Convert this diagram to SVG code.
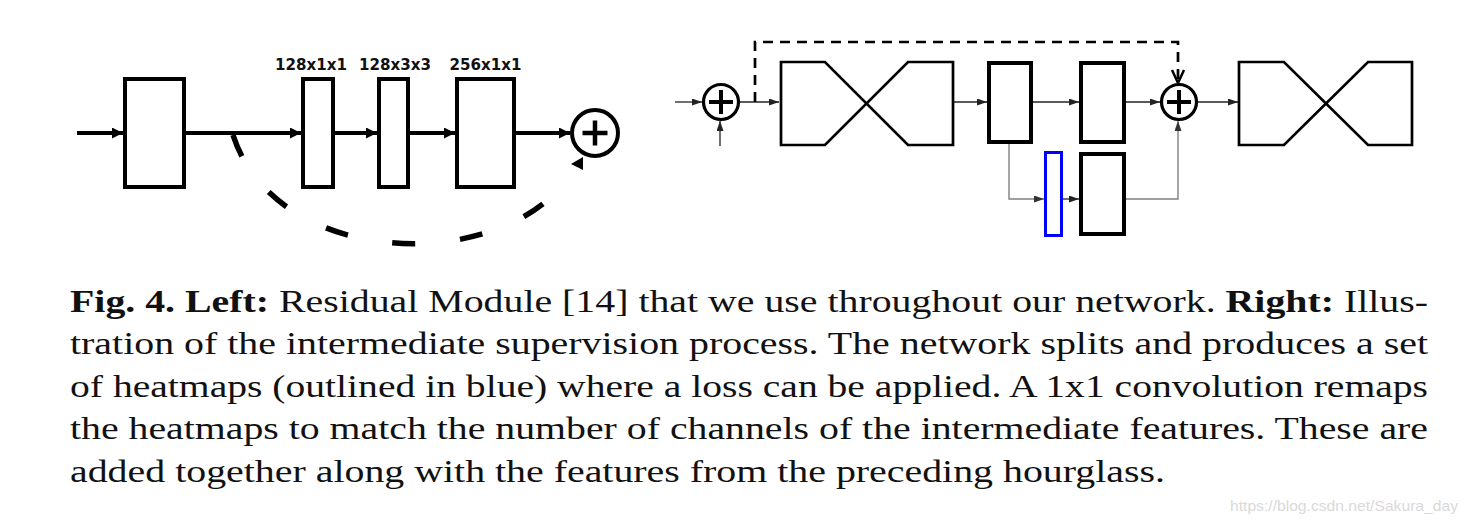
<svg xmlns="http://www.w3.org/2000/svg" width="1470" height="523" viewBox="0 0 1470 523">
  <style>
    .thick { fill: none; stroke: #000; stroke-width: 4; }
    .box { fill: #fff; stroke: #000; stroke-width: 4; }
    .hg { fill: #fff; stroke: #000; stroke-width: 2.7; stroke-linejoin: miter; }
    .thin { fill: none; stroke: #222; stroke-width: 1.3; }
    .grey { fill: none; stroke: #808080; stroke-width: 1.4; }
    .skip { fill: none; stroke: #000; stroke-width: 2.7; stroke-dasharray: 10 7; }
    .arc { fill: none; stroke: #000; stroke-width: 5.5; stroke-dasharray: 23 45 23 45 23 45 23 45 23 45 23 300; }
    .sum { fill: #fff; stroke: #000; }
    .plus { stroke: #000; stroke-linecap: butt; }
    .lbl { font-family: "DejaVu Sans", sans-serif; font-weight: bold; font-size: 15.5px; text-anchor: middle; fill: #111; }
    .cap { font-family: "Liberation Serif", "Times New Roman", serif; font-size: 31px; fill: #111; }
    .b { font-weight: bold; }
    .wm { font-family: "Liberation Sans", Arial, sans-serif; font-size: 14.5px; fill: #d9d9d9; }
  </style>
  <defs>
    <marker id="headThick" markerUnits="userSpaceOnUse" markerWidth="12" markerHeight="12" refX="11" refY="5.5" orient="auto">
      <path d="M0,0 L11,5.5 L0,11 z" fill="#000"/>
    </marker>
    <marker id="headThin" markerUnits="userSpaceOnUse" markerWidth="11" markerHeight="8" refX="10" refY="3.5" orient="auto">
      <path d="M0,0 L10,3.5 L0,7 z" fill="#222"/>
    </marker>
    <marker id="headGrey" markerUnits="userSpaceOnUse" markerWidth="11" markerHeight="8" refX="10" refY="3.5" orient="auto">
      <path d="M0,0 L10,3.5 L0,7 z" fill="#333"/>
    </marker>
  </defs>

  <rect width="1470" height="523" fill="#fff"/>

  <!-- Residual module (left) -->
  <g id="res-connectors">
    <line class="thick" x1="77" y1="133" x2="123" y2="133" marker-end="url(#headThick)"/>
    <line class="thick" x1="186" y1="133" x2="301" y2="133" marker-end="url(#headThick)"/>
    <line class="thick" x1="335" y1="133" x2="377" y2="133" marker-end="url(#headThick)"/>
    <line class="thick" x1="410" y1="133" x2="455" y2="133" marker-end="url(#headThick)"/>
    <line class="thick" x1="516" y1="133" x2="570" y2="133" marker-end="url(#headThick)"/>
    <!-- identity skip drawn as a dashed curve -->
    <path class="arc" d="M233,135 C278,275 522,275 578,162"/>
    <polygon points="571,164 583,157 583,170" fill="#000"/>
  </g>
  <g id="res-input">
    <rect class="box" x="125" y="79" width="59" height="108"/>
  </g>
  <g id="conv-128x1x1">
    <rect class="box" x="303" y="79" width="30" height="108"/>
    <text class="lbl" x="311" y="70" textLength="72" lengthAdjust="spacingAndGlyphs">128x1x1</text>
  </g>
  <g id="conv-128x3x3">
    <rect class="box" x="379" y="79" width="29" height="108"/>
    <text class="lbl" x="395" y="70" textLength="72" lengthAdjust="spacingAndGlyphs">128x3x3</text>
  </g>
  <g id="conv-256x1x1">
    <rect class="box" x="457" y="79" width="57" height="108"/>
    <text class="lbl" x="485.5" y="70" textLength="72" lengthAdjust="spacingAndGlyphs">256x1x1</text>
  </g>
  <g id="res-sum">
    <circle class="sum" cx="595" cy="133" r="23" stroke-width="4"/>
    <line class="plus" x1="582.5" y1="133" x2="607.5" y2="133" stroke-width="4.5"/>
    <line class="plus" x1="595" y1="120.5" x2="595" y2="145.5" stroke-width="4.5"/>
  </g>

  <!-- Intermediate supervision (right) -->
  <g id="sup-connectors">
    <line class="thin" x1="675" y1="102" x2="702" y2="102" marker-end="url(#headThin)"/>
    <line class="thin" x1="720" y1="146" x2="720" y2="121" marker-end="url(#headThin)"/>
    <line class="thin" x1="740" y1="102" x2="779" y2="102" marker-end="url(#headThin)"/>
    <line class="thin" x1="954" y1="102" x2="987" y2="102" marker-end="url(#headThin)"/>
    <line class="thin" x1="1033" y1="102" x2="1079" y2="102" marker-end="url(#headThin)"/>
    <line class="thin" x1="1126" y1="102" x2="1160" y2="102" marker-end="url(#headThin)"/>
    <line class="thin" x1="1198" y1="102" x2="1238" y2="102" marker-end="url(#headThin)"/>
    <polyline class="grey" points="1009,144 1009,199 1044,199" marker-end="url(#headGrey)"/>
    <line class="thin" x1="1063" y1="199" x2="1079" y2="199" marker-end="url(#headThin)"/>
    <polyline class="grey" points="1126,199 1178,199 1178,121" marker-end="url(#headGrey)"/>
    <polyline class="skip" points="755,102 755,42 1178,42 1178,82"/>
    <polyline points="1172,70 1178,83 1184,70" fill="none" stroke="#000" stroke-width="2.5"/>
  </g>
  <g id="sup-sum-in">
    <circle class="sum" cx="721" cy="102" r="17.5" stroke-width="3.2"/>
    <line class="plus" x1="709" y1="102" x2="733" y2="102" stroke-width="4"/>
    <line class="plus" x1="721" y1="90" x2="721" y2="114" stroke-width="4"/>
  </g>
  <g id="hourglass-1">
    <path class="hg" d="M781,62 L825,62 L908,145 L953,145 L953,62 L908,62 L825,145 L781,145 Z"/>
  </g>
  <g id="features">
    <rect class="box" x="989" y="63" width="42" height="79"/>
  </g>
  <g id="features-2">
    <rect class="box" x="1081" y="63" width="43" height="79"/>
  </g>
  <g id="heatmaps">
    <rect x="1045.5" y="152.5" width="16" height="83" fill="#fff" stroke="#0000ff" stroke-width="3"/>
  </g>
  <g id="remap">
    <rect class="box" x="1081" y="154" width="43" height="80"/>
  </g>
  <g id="sup-sum-out">
    <circle class="sum" cx="1179" cy="102" r="17.5" stroke-width="3.2"/>
    <line class="plus" x1="1167" y1="102" x2="1191" y2="102" stroke-width="4"/>
    <line class="plus" x1="1179" y1="90" x2="1179" y2="114" stroke-width="4"/>
  </g>
  <g id="hourglass-2">
    <path class="hg" d="M1239,62 L1284,62 L1368,145 L1412,145 L1412,62 L1368,62 L1284,145 L1239,145 Z"/>
  </g>

  <!-- Caption -->
  <g id="caption">
    <text class="cap" x="70" y="312" textLength="1358" lengthAdjust="spacingAndGlyphs"><tspan class="b">Fig. 4. Left:</tspan> Residual Module [14] that we use throughout our network. <tspan class="b">Right:</tspan> Illus-</text>
    <text class="cap" x="70" y="354" textLength="1358" lengthAdjust="spacingAndGlyphs">tration of the intermediate supervision process. The network splits and produces a set</text>
    <text class="cap" x="70" y="397" textLength="1358" lengthAdjust="spacingAndGlyphs">of heatmaps (outlined in blue) where a loss can be applied. A 1x1 convolution remaps</text>
    <text class="cap" x="70" y="439" textLength="1358" lengthAdjust="spacingAndGlyphs">the heatmaps to match the number of channels of the intermediate features. These are</text>
    <text class="cap" x="70" y="482" textLength="1095" lengthAdjust="spacingAndGlyphs">added together along with the features from the preceding hourglass.</text>
  </g>
  <text class="wm" x="1230" y="511" textLength="228" lengthAdjust="spacingAndGlyphs">https://blog.csdn.net/Sakura_day</text>
</svg>
